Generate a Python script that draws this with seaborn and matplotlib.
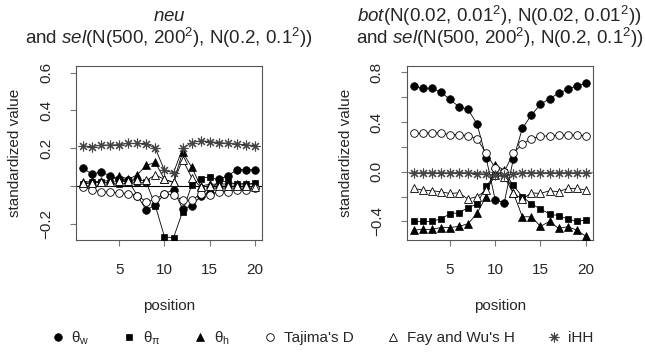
import numpy as np
import pandas as pd
import matplotlib
matplotlib.use('Agg')
import matplotlib.pyplot as plt
import seaborn as sns
from matplotlib.lines import Line2D

# posições ao longo da região
position = list(range(1, 21))

# painel esquerdo: neu e sel
neu_theta_w = [0.097, 0.062, 0.076, 0.053, 0.035, 0.030, -0.050, -0.127, -0.100, -0.040,
               -0.020, -0.120, -0.105, -0.053, -0.035, 0.035, 0.055, 0.087, 0.087, 0.087]
neu_theta_pi = [0.010, 0.020, 0.020, 0.015, 0.010, 0.015, 0.020, 0.020, -0.105, -0.268,
                -0.273, -0.135, 0.005, 0.040, 0.050, 0.030, 0.020, 0.012, 0.010, 0.015]
neu_theta_h = [0.020, 0.025, 0.025, 0.030, 0.055, 0.035, 0.060, 0.110, 0.125, 0.035,
               0.020, 0.180, 0.100, 0.000, 0.010, 0.010, 0.012, 0.012, 0.012, 0.010]
neu_tajima = [-0.005, -0.020, -0.030, -0.030, -0.035, -0.040, -0.050, -0.083, -0.070, -0.040,
              -0.048, -0.075, -0.075, -0.040, -0.045, -0.030, -0.030, -0.020, -0.018, -0.012]
neu_faywu = [0.015, 0.015, 0.020, 0.020, 0.025, 0.025, 0.030, 0.030, 0.060, 0.035,
             0.020, 0.140, 0.045, -0.005, 0.000, 0.000, 0.000, 0.000, 0.000, -0.005]
neu_ihh = [0.213, 0.208, 0.217, 0.217, 0.219, 0.226, 0.226, 0.225, 0.199, 0.083,
           0.071, 0.199, 0.230, 0.240, 0.235, 0.230, 0.226, 0.222, 0.219, 0.213]

# painel direito: bot e sel
bot_theta_w = [0.691, 0.672, 0.672, 0.642, 0.583, 0.524, 0.503, 0.385, 0.113, -0.225,
               -0.250, 0.100, 0.350, 0.457, 0.543, 0.589, 0.632, 0.664, 0.691, 0.712]
bot_theta_pi = [-0.400, -0.400, -0.400, -0.380, -0.340, -0.330, -0.290, -0.260, -0.115, -0.030,
                0.000, -0.110, -0.200, -0.260, -0.300, -0.340, -0.355, -0.380, -0.400, -0.390]
bot_theta_h = [-0.470, -0.465, -0.465, -0.450, -0.450, -0.440, -0.420, -0.336, -0.200, 0.054,
               0.013, -0.170, -0.363, -0.363, -0.440, -0.400, -0.457, -0.443, -0.470, -0.520]
bot_tajima = [0.310, 0.310, 0.315, 0.310, 0.300, 0.300, 0.290, 0.265, 0.150, 0.030,
              0.000, 0.150, 0.223, 0.265, 0.285, 0.290, 0.295, 0.295, 0.295, 0.290]
bot_faywu = [-0.134, -0.148, -0.153, -0.161, -0.175, -0.170, -0.220, -0.200, -0.150, -0.030,
             -0.040, -0.175, -0.220, -0.170, -0.175, -0.153, -0.161, -0.134, -0.134, -0.148]
bot_ihh = [-0.012, -0.012, -0.010, -0.012, -0.012, -0.010, -0.012, -0.015, -0.020, -0.030,
           -0.030, -0.020, -0.012, -0.010, -0.012, -0.010, -0.012, -0.010, -0.012, -0.012]

labels = ['$\\mathrm{θ}_\\mathrm{w}$', '$\\mathrm{θ}_\\mathrm{π}$', '$\\mathrm{θ}_\\mathrm{h}$',
          "Tajima's D", "Fay and Wu's H", 'iHH']

# estilo dos marcadores (como pch do R)
estilos = [
    dict(marker='o', mfc='black', mec='black', ms=5.5),
    dict(marker='s', mfc='black', mec='black', ms=5),
    dict(marker='^', mfc='black', mec='black', ms=6),
    dict(marker='o', mfc='white', mec='black', ms=5.5, mew=0.6),
    dict(marker='^', mfc='white', mec='black', ms=6, mew=0.6),
    dict(marker=(8, 2, 0), mfc='none', mec='#444444', ms=7, mew=0.8),
]

sns.set_theme(style='white')
plt.rcParams['font.family'] = ['Liberation Sans', 'DejaVu Sans']
plt.rcParams['mathtext.fontset'] = 'custom'
plt.rcParams['mathtext.rm'] = 'Liberation Sans'
plt.rcParams['mathtext.it'] = 'Liberation Sans:italic'
plt.rcParams['mathtext.sf'] = 'Liberation Sans'

fig = plt.figure(figsize=(6.45, 3.54), dpi=100)
ax1 = fig.add_axes([76 / 645, 1 - 240 / 354, 186 / 645, 174 / 354])
ax2 = fig.add_axes([406.7 / 645, 1 - 240 / 354, 186 / 645, 174 / 354])

sel_txt = 'and $\\mathit{sel}$(N(500, 200$^2$), N(0.2, 0.1$^2$))'
paineis = [
    (ax1, [neu_theta_w, neu_theta_pi, neu_theta_h, neu_tajima, neu_faywu, neu_ihh],
     ['$\\mathit{neu}$', sel_txt],
     (-0.285, 0.635), [-0.2, 0, 0.2, 0.4, 0.6], ['\u22120.2', '', '0.2', '0.4', '0.6'], 'black'),
    (ax2, [bot_theta_w, bot_theta_pi, bot_theta_h, bot_tajima, bot_faywu, bot_ihh],
     ['$\\mathit{bot}$(N(0.02, 0.01$^2$), N(0.02, 0.01$^2$))', sel_txt],
     (-0.55, 0.852), [-0.4, -0.2, 0, 0.2, 0.4, 0.6, 0.8], ['\u22120.4', '', '0.0', '', '0.4', '', '0.8'], '#888888'),
]

for ax, series, titulo, ylim, yt, ytl, cor_zero in paineis:
    ax.axhline(0, color=cor_zero, lw=0.8, zorder=1)
    for vals, st in zip(series, estilos):
        df = pd.DataFrame({'position': position, 'value': vals})
        sns.lineplot(data=df, x='position', y='value', ax=ax, color='black', lw=0.6,
                     marker=st['marker'], markersize=st['ms'], markerfacecolor=st['mfc'],
                     markeredgecolor=st['mec'], markeredgewidth=st.get('mew', 0.5), zorder=3)
    ax.set_xlim(0.24, 20.76)
    ax.set_ylim(*ylim)
    ax.set_xticks([5, 10, 15, 20])
    ax.set_xticklabels(['5', '10', '15', '20'], fontsize=11)
    ax.set_yticks(yt)
    ax.set_yticklabels(ytl, fontsize=11)
    ax.tick_params(axis='both', direction='out', length=4.5, width=0.8, color='#777777',
                   pad=12, bottom=True, left=True)
    ax.tick_params(axis='y', labelrotation=90)
    for lbl in ax.get_yticklabels():
        lbl.set_verticalalignment('center')
    for sp in ax.spines.values():
        sp.set_color('#555555')
        sp.set_linewidth(0.8)
    ax.set_xlabel('position', fontsize=11, labelpad=16)
    ax.set_ylabel('standardized value', fontsize=11, labelpad=12)
    # título em duas linhas (cex.main = 1.2)
    ax.text(0.5, 1.287, titulo[0], transform=ax.transAxes, ha='center', va='center', fontsize=13.5)
    ax.text(0.5, 1.161, titulo[1], transform=ax.transAxes, ha='center', va='center', fontsize=13.5)
    ax.grid(False)

handles = [Line2D([], [], ls='none', marker=st['marker'], markersize=st['ms'],
                  markerfacecolor=st['mfc'], markeredgecolor=st['mec'],
                  markeredgewidth=st.get('mew', 0.5)) for st in estilos]
fig.legend(handles, labels, loc='center', bbox_to_anchor=(0.5, 1 - 338 / 354), ncol=6,
           frameon=False, fontsize=11, handlelength=0.8, handletextpad=0.5,
           columnspacing=2.2)

fig.savefig('out.png', dpi=100)
